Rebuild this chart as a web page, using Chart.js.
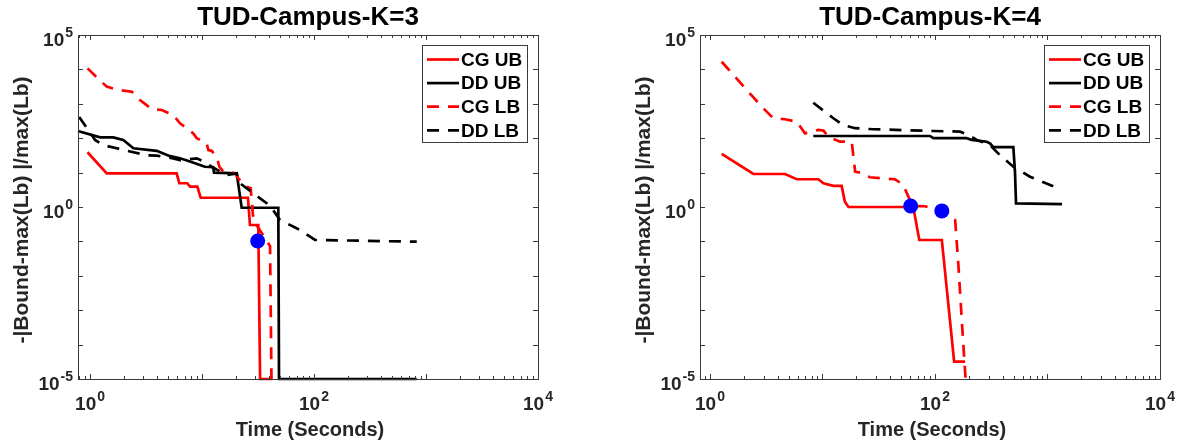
<!DOCTYPE html>
<html><head><meta charset="utf-8">
<script src="https://cdn.jsdelivr.net/npm/chart.js@4.4.1/dist/chart.umd.min.js"></script>
<style>
html,body{margin:0;padding:0;background:#fff;width:1184px;height:445px;overflow:hidden}
#w1{position:absolute;left:0;top:0;width:592px;height:445px}
#w2{position:absolute;left:592px;top:0;width:592px;height:445px}
canvas{display:block}
</style></head><body>
<div id="w1"><canvas id="c1" width="592" height="445"></canvas></div>
<div id="w2"><canvas id="c2" width="592" height="445"></canvas></div>
<script>
// ---- text ----
const seriesLabels = ['CG UB', 'DD UB', 'CG LB', 'DD LB'];
const chartTitles = ['TUD-Campus-K=3', 'TUD-Campus-K=4'];
const xAxisLabel = 'Time (Seconds)';
const yAxisLabel = '-|Bound-max(Lb) |/max(Lb)';
const xTickExponents = [0, 2, 4];
const yTickExponents = [-5, 0, 5];

// ---- K=3 data (time in seconds, value) ----
const k3CgUbT = [0.95, 1.41, 5.94, 6.27, 7.39, 7.81, 9.08, 9.73, 25.7, 26.8, 31.8, 33.0, 41.9];
const k3CgUbV = [39, 9.5, 9.5, 4.9, 4.9, 3.9, 3.9, 1.86, 1.86, 0.30, 0.30, 1e-5, 1e-5];
const k3DdUbT = [0.78, 1.23, 1.61, 1.98, 2.44, 3.94, 5.18, 6.36, 7.81, 10.6, 12.6, 12.8, 20.4, 22.6, 48.0, 48.7, 826];
const k3DdUbV = [162, 106, 106, 89, 51, 43, 30, 26, 21, 14.8, 14.3, 10, 9.5, 0.95, 0.95, 1e-5, 1e-5];
const k3CgLbT = [0.95, 1.41, 1.79, 2.36, 2.79, 3.56, 4.37, 5.54, 6.36, 8.36, 8.97, 11.0, 11.4, 12.2, 13.5, 14.3, 15.5, 19.7, 21.1, 25.1, 27.2, 28.5, 30.3, 40.5, 41.7];
const k3CgLbV = [10700, 3150, 2520, 2240, 1290, 705, 660, 470, 271, 138, 100, 71, 45, 43, 29, 14.8, 10.6, 9.5, 6.8, 3.9, 3.5, 0.58, 0.32, 0.073, 1e-5];
const k3DdLbT = [0.80, 1.11, 1.31, 1.73, 2.28, 3.21, 3.94, 5.54, 6.36, 8.97, 10.3, 12.2, 16.6, 20.4, 21.8, 33.0, 40.5, 49.7, 75, 102, 826];
const k3DdLbV = [415, 89, 63, 51, 41, 32, 31, 26, 23, 26, 21, 14.8, 8.5, 9.5, 4.9, 1.79, 1.09, 0.42, 0.214, 0.11, 0.098];
const k3DotT = [31.4];
const k3DotV = [0.103];

// ---- K=4 data ----
const k4CgUbT = [1.27, 2.43, 4.64, 5.90, 9.18, 10.2, 12.5, 14.8, 15.8, 17.0, 64.1, 72.5, 115, 148, 185];
const k4CgUbV = [35, 9.1, 9.1, 6.4, 6.4, 4.9, 4.1, 4.1, 1.43, 1.0, 1.0, 0.11, 0.11, 3.2e-5, 3.2e-5];
const k4DdUbT = [8.28, 90.3, 96.6, 191, 212, 288, 308, 330, 497, 514, 525, 1346];
const k4DdUbV = [116, 116, 100, 100, 89, 79, 71, 55, 55, 10.6, 1.28, 1.22];
const k4CgLbT = [1.27, 2.12, 2.98, 3.65, 4.64, 5.90, 6.99, 9.18, 10.2, 11.3, 14.3, 18.2, 19.5, 23.1, 26.4, 44.1, 52.3, 57.9, 64.1, 81.5, 115, 151, 161, 179, 187];
const k4CgLbV = [16700, 2510, 740, 380, 355, 302, 138, 174, 166, 110, 79, 79, 10.6, 9.5, 7.3, 6.4, 4.4, 2.0, 1.07, 1.05, 0.77, 0.42, 0.023, 8.7e-5, 1e-5];
const k4DdLbT = [8.28, 12.5, 15.3, 19.5, 28.3, 96.6, 167, 191, 235, 308, 378, 497, 699, 1291];
const k4DdLbV = [1070, 380, 240, 195, 182, 162, 155, 132, 89, 63, 32, 14.8, 7.6, 3.3];
const k4DotT = [60.8, 115];
const k4DotV = [1.07, 0.77];

// ---- axis ranges ----
const xMins = [0.781, 0.815];
const xMax = 1e4;
const yMin = 1e-5, yMax = 1e5;

const FONT = '"Liberation Sans", Arial, Helvetica, sans-serif';
const AXIS_COLOR = '#3a3a3a';
const TEXT_COLOR = '#262626';
const seriesColors = ['#ff0000', '#000000', '#ff0000', '#000000'];
const seriesDash = [[], [], [12, 9], [12, 9]];

function pts(t, v) { return t.map((x, i) => ({ x: x, y: v[i] })); }

function drawPow(ctx, exp, x, baseY, align) {
  const bf = 'bold 19px ' + FONT, sf = 'bold 14px ' + FONT;
  ctx.font = bf; const wb = ctx.measureText('10').width;
  ctx.font = sf; const es = String(exp); const we = ctx.measureText(es).width;
  const total = wb + 1 + we;
  let sx = align === 'center' ? x - total / 2 : x - total;
  ctx.textAlign = 'left'; ctx.textBaseline = 'alphabetic'; ctx.fillStyle = TEXT_COLOR;
  ctx.font = bf; ctx.fillText('10', sx, baseY);
  ctx.font = sf; ctx.fillText(es, sx + wb + 1, baseY - 9);
}

function line(ctx, x1, y1, x2, y2) { ctx.beginPath(); ctx.moveTo(x1, y1); ctx.lineTo(x2, y2); ctx.stroke(); }

function makePlugin(idx, yLabelX) {
  return {
    id: 'matlabLook' + idx,
    afterDatasetsDraw(chart) {
      const ctx = chart.ctx, a = chart.chartArea, xs = chart.scales.x, ys = chart.scales.y;
      ctx.save();
      ctx.strokeStyle = AXIS_COLOR; ctx.lineWidth = 1;
      ctx.strokeRect(Math.round(a.left) + 0.5, Math.round(a.top) + 0.5, Math.round(a.right - a.left), Math.round(a.bottom - a.top));
      for (let k = -1; k <= 4; k++) {
        for (let m = 1; m <= 9; m++) {
          const v = m * Math.pow(10, k);
          if (v < xs.min || v > xs.max * 1.0001) continue;
          const px = Math.round(xs.getPixelForValue(v)) + 0.5;
          const len = m === 1 ? 5 : 3;
          line(ctx, px, a.bottom, px, a.bottom - len);
          line(ctx, px, a.top, px, a.top + len);
        }
      }
      for (let k = -5; k <= 5; k++) {
        const py = Math.round(ys.getPixelForValue(Math.pow(10, k))) + 0.5;
        line(ctx, a.left, py, a.left + 5, py);
        line(ctx, a.right, py, a.right - 5, py);
      }
      // legend
      const bw = 106, bh = 98;
      const bx = Math.round(a.right - 10 - bw), by = Math.round(a.top + 10);
      ctx.fillStyle = '#fff'; ctx.fillRect(bx, by, bw, bh);
      ctx.strokeStyle = AXIS_COLOR; ctx.lineWidth = 1;
      ctx.strokeRect(bx + 0.5, by + 0.5, bw - 1, bh - 1);
      const dsets = chart.data.datasets.filter(d => d.isSeries);
      dsets.forEach((d, i) => {
        const ry = by + 14.5 + i * 23.6;
        ctx.strokeStyle = d.borderColor; ctx.lineWidth = 2.7;
        ctx.setLineDash(d.borderDash || []);
        line(ctx, bx + 5, ry, bx + 37, ry);
        ctx.setLineDash([]);
        ctx.fillStyle = '#000'; ctx.font = 'bold 19px ' + FONT;
        ctx.textAlign = 'left'; ctx.textBaseline = 'middle';
        ctx.fillText(d.label, bx + 39, ry + 1);
      });
      ctx.restore();
    },
    afterDraw(chart) {
      const ctx = chart.ctx, a = chart.chartArea, xs = chart.scales.x, ys = chart.scales.y;
      ctx.save();
      xTickExponents.forEach(e => {
        const px = xs.getPixelForValue(Math.pow(10, e));
        drawPow(ctx, e, px, a.bottom + 31, 'center');
      });
      yTickExponents.forEach(e => {
        const py = ys.getPixelForValue(Math.pow(10, e));
        drawPow(ctx, e, a.left - 5, py + 10.5, 'right');
      });
      const cx = (a.left + a.right) / 2;
      ctx.fillStyle = '#000'; ctx.font = 'bold 26px ' + FONT;
      ctx.textAlign = 'center'; ctx.textBaseline = 'alphabetic';
      ctx.fillText(chartTitles[idx], cx, 25);
      ctx.fillStyle = TEXT_COLOR; ctx.font = 'bold 20px ' + FONT;
      ctx.fillText(xAxisLabel, cx + 2, 436);
      ctx.translate(yLabelX, 210);
      ctx.rotate(-Math.PI / 2);
      ctx.font = 'bold 21px ' + FONT; ctx.textBaseline = 'middle';
      ctx.fillText(yAxisLabel, 0, 0);
      ctx.restore();
    }
  };
}

function makeChart(canvasId, idx, series, dots, pad, yLabelX) {
  const datasets = [];
  datasets.push({
    type: 'scatter', label: 'marker', data: dots, isSeries: false,
    pointRadius: 7.5, pointHoverRadius: 7.5, pointBackgroundColor: '#0000ff', pointBorderColor: '#0000ff',
    pointBorderWidth: 0, showLine: false, order: 0, clip: false
  });
  series.forEach((s, i) => {
    datasets.push({
      type: 'line', label: seriesLabels[i], data: s, isSeries: true,
      borderColor: seriesColors[i], backgroundColor: seriesColors[i], borderWidth: 2.7,
      borderDash: seriesDash[i], pointRadius: 0, pointHoverRadius: 0, tension: 0, fill: false,
      order: 4 - i, clip: false
    });
  });
  return new Chart(document.getElementById(canvasId), {
    data: { datasets: datasets },
    options: {
      responsive: false, animation: false, devicePixelRatio: 1,
      layout: { padding: pad },
      plugins: { legend: { display: false }, tooltip: { enabled: false }, title: { display: false } },
      events: [],
      scales: {
        x: { type: 'logarithmic', min: xMins[idx], max: xMax, display: false },
        y: { type: 'logarithmic', min: yMin, max: yMax, display: false }
      }
    },
    plugins: [makePlugin(idx, yLabelX)]
  });
}

makeChart('c1', 0,
  [pts(k3CgUbT, k3CgUbV), pts(k3DdUbT, k3DdUbV), pts(k3CgLbT, k3CgLbV), pts(k3DdLbT, k3DdLbV)],
  pts(k3DotT, k3DotV),
  { left: 78, right: 54, top: 35, bottom: 66 }, 22.5);
makeChart('c2', 1,
  [pts(k4CgUbT, k4CgUbV), pts(k4DdUbT, k4DdUbV), pts(k4CgLbT, k4CgLbV), pts(k4DdLbT, k4DdLbV)],
  pts(k4DotT, k4DotV),
  { left: 108, right: 24, top: 35, bottom: 66 }, 52.5);
</script>
</body></html>
